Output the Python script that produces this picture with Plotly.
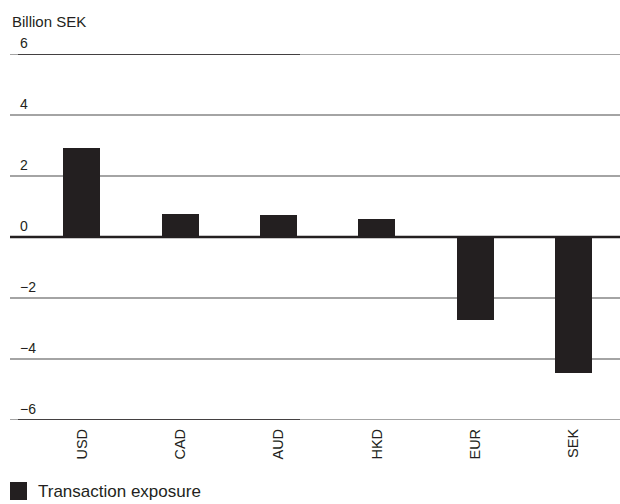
import plotly.graph_objects as go

currencies = ["USD", "CAD", "AUD", "HKD", "EUR", "SEK"]
exposure = [2.92, 0.75, 0.72, 0.59, -2.72, -4.46]
y_ticks = [6, 4, 2, 0, -2, -4, -6]
y_tick_labels = ["6", "4", "2", "0", "\u22122", "\u22124", "\u22126"]

W, H = 620, 504
ML, MR, MT, MB = 10, 0, 54, 84
FONT = "Liberation Sans, Arial, sans-serif"
DARK = "#231f20"

fig = go.Figure(
    go.Bar(
        x=currencies,
        y=exposure,
        width=0.376,
        marker=dict(color=DARK, line=dict(width=0)),
        showlegend=False,
        hoverinfo="x+y",
    )
)

# gridlines drawn as shapes so the zero line can be heavier
shapes = []
for v in y_ticks:
    if v == 0:
        shapes.append(dict(type="line", xref="paper", yref="y", x0=0, x1=1, y0=v, y1=v,
                           line=dict(color=DARK, width=2.5), layer="above"))
    else:
        shapes.append(dict(type="line", xref="paper", yref="y", x0=0, x1=1, y0=v, y1=v,
                           line=dict(color="#4a4a4a", width=1.2), layer="below"))
# darker segments on the top and bottom lines, as in the original
for v in (6, -6):
    shapes.append(dict(type="line", xref="paper", yref="y", x0=8 / 610, x1=290 / 610, y0=v, y1=v,
                       line=dict(color=DARK, width=1.6), layer="below"))

# legend swatch
shapes.append(dict(type="rect", xref="paper", yref="paper",
                   x0=0, x1=17 / 610, y0=-(482 - 420) / 366, y1=-(500 - 420) / 366,
                   fillcolor=DARK, line=dict(width=0)))

annotations = []
for v, lab in zip(y_ticks, y_tick_labels):
    annotations.append(dict(xref="paper", yref="y", x=8 / 610, y=v, text=lab,
                            showarrow=False, xanchor="left", yanchor="bottom", yshift=1,
                            font=dict(family=FONT, size=14, color=DARK)))
annotations.append(dict(xref="paper", yref="paper", x=0, y=1, yshift=22, text="Billion SEK",
                        showarrow=False, xanchor="left", yanchor="bottom",
                        font=dict(family=FONT, size=15, color=DARK)))
annotations.append(dict(xref="paper", yref="paper", x=26 / 610, y=-(491 - 420) / 366,
                        text="Transaction exposure", showarrow=False,
                        xanchor="left", yanchor="middle",
                        font=dict(family=FONT, size=17, color=DARK)))

fig.update_layout(
    width=W,
    height=H,
    margin=dict(l=ML, r=MR, t=MT, b=MB),
    plot_bgcolor="white",
    paper_bgcolor="white",
    bargap=0,
    shapes=shapes,
    annotations=annotations,
    font=dict(family=FONT, size=12, color=DARK),
)
fig.update_xaxes(
    range=[-0.73, 5.47],
    showgrid=False,
    showline=False,
    zeroline=False,
    ticks="",
    tickangle=-90,
    ticklabelstandoff=5,
    tickfont=dict(family=FONT, size=14.5, color=DARK),
)
fig.update_yaxes(
    range=[-6, 6],
    showgrid=False,
    zeroline=False,
    showticklabels=False,
    ticks="",
)

# drop the page's default body margin so the figure sits at the window's corner
fig.write_html("out.html", config={"displayModeBar": False},
               post_script="document.body.style.margin='0';")
